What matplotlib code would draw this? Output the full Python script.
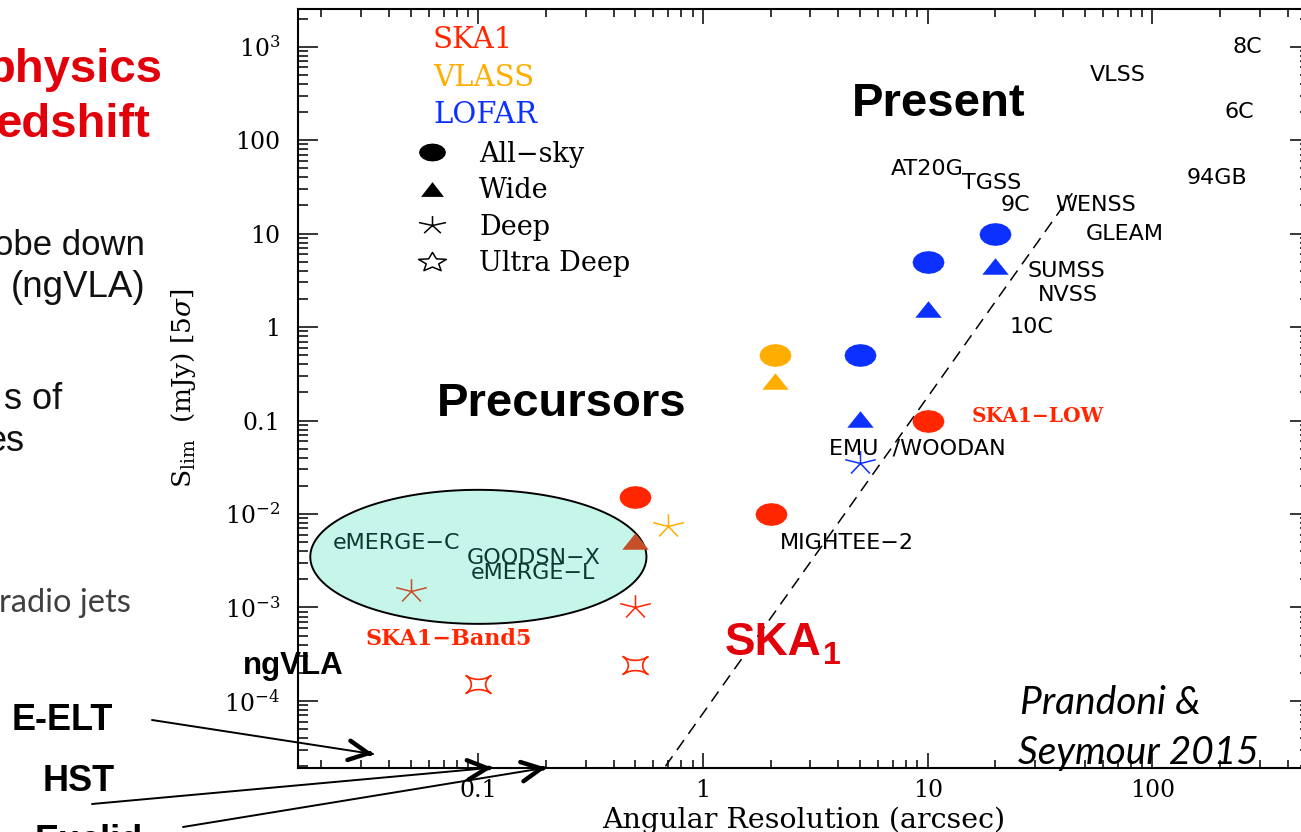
import numpy as np
import matplotlib
matplotlib.use("Agg")
import matplotlib.pyplot as plt
from matplotlib.path import Path
from matplotlib.lines import Line2D
from matplotlib.ticker import NullFormatter

plt.rcParams["font.family"] = ["DejaVu Serif"]
plt.rcParams["mathtext.fontset"] = "dejavuserif"

# ---- data: angular resolution (arcsec) vs 5-sigma flux limit (mJy) ----
ska1_allsky_res = [0.5, 2, 10]
ska1_allsky_flux = [0.0152, 0.01, 0.1]
ska1_deep_res = [0.5]
ska1_deep_flux = [0.001]
ska1_udeep_res = [0.5, 0.1]
ska1_udeep_flux = [2.45e-4, 1.5e-4]

vlass_allsky_res = [2.1]
vlass_allsky_flux = [0.5]
vlass_wide_res = [2.1]
vlass_wide_flux = [0.265]
vlass_deep_res = [0.7]
vlass_deep_flux = [0.0075]

lofar_allsky_res = [5, 10, 20]
lofar_allsky_flux = [0.5, 5, 10]
lofar_wide_res = [5, 10, 20]
lofar_wide_flux = [0.104, 1.55, 4.5]
lofar_deep_res = [5]
lofar_deep_flux = [0.035]

emerlin_wide_res = [0.5]
emerlin_wide_flux = [0.0052]
emerlin_deep_res = [0.05]
emerlin_deep_flux = [0.0015]

# SKA1 limit (dashed line)
conf_res = [0.68, 44]
conf_flux = [2e-5, 27]

# labels of existing surveys
survey_names = ["8C", "VLSS", "6C", "AT20G", "TGSS", "94GB", "9C", "WENSS",
                "GLEAM", "SUMSS", "NVSS", "10C", "EMU  /WOODAN", "MIGHTEE\u22122"]
survey_res = [226, 52.7, 210, 6.87, 14.2, 142.6, 21.0, 36.9,
              50.7, 27.7, 31.0, 23.2, 3.64, 2.2]
survey_flux = [1000, 500, 199, 49.5, 35, 39.4, 20.1, 20.1,
               9.9, 3.95, 2.22, 1.0, 0.05, 0.00486]

# deep fields inside the highlighted region
field_names = ["eMERGE\u2212C", "GOODSN\u2212X", "eMERGE\u2212L"]
field_res = [0.0226, 0.0887, 0.0925]
field_flux = [0.00486, 0.00337, 0.00236]
region_center = (0.1, 0.00348)
region_half_decades = (0.748, 0.717)

telescopes = ["SKA1", "VLASS", "LOFAR"]
survey_types = ["All\u2212sky", "Wide", "Deep", "Ultra Deep"]

x_ticks = [0.1, 1, 10, 100]
x_tick_labels = ["0.1", "1", "10", "100"]
y_ticks = [1e-4, 1e-3, 1e-2, 0.1, 1, 10, 100, 1e3]
y_tick_labels = [r"$\mathregular{10^{-4}}$", r"$\mathregular{10^{-3}}$", r"$\mathregular{10^{-2}}$",
                 "0.1", "1", "10", "100", r"$\mathregular{10^{3}}$"]

# facilities pointed at on the resolution axis
facility_names = ["E-ELT", "HST", "Euclid"]
facility_res = [0.034, 0.115, 0.2]
facility_flux = [2.7e-5, 1.93e-5, 1.93e-5]

RED = "#ff2600"
ORANGE = "#ffad00"
BLUE = "#0b30ff"
BROWN = "#c64f2a"
SLIDE_RED = "#e2000a"


# ---- marker shapes (IDL symbols are stretched sideways) ----
def blob(stretch=1.4, n=16):
    t = np.linspace(0, 2 * np.pi, n + 1)
    return Path(np.column_stack([np.cos(t), np.sin(t) / stretch]), closed=True)


def flat_triangle(stretch=1.6):
    h = 1 / stretch
    return Path([(-1, -h), (1, -h), (0, h), (-1, -h)], closed=True)


def asterisk(arms=5, stretch=1.3):
    verts, codes = [], []
    for k in range(arms):
        a = np.pi / 2 + 2 * np.pi * k / arms
        verts += [(0, 0), (np.cos(a) * stretch, np.sin(a))]
        codes += [Path.MOVETO, Path.LINETO]
    return Path(verts, codes)


def four_star(stretch=1.4, p=3.6, n=120):
    t = np.linspace(0, 2 * np.pi, n + 1)
    x = np.sign(np.cos(t)) * np.abs(np.cos(t)) ** p
    y = np.sign(np.sin(t)) * np.abs(np.sin(t)) ** p
    c, s = np.cos(np.pi / 4), np.sin(np.pi / 4)
    xr, yr = c * x - s * y, s * x + c * y
    return Path(np.column_stack([xr * stretch, yr]), closed=True)


def star5(stretch=1.45, inner=0.45):
    k = np.arange(11)
    ang = np.pi / 2 + k * np.pi / 5
    r = np.where(k % 2 == 0, 1.0, inner)
    return Path(np.column_stack([r * np.cos(ang) * stretch, r * np.sin(ang)]), closed=True)


W, H = 1301, 832
fig = plt.figure(figsize=(W / 100, H / 100), dpi=100)
ax = fig.add_axes([298.3 / W, (H - 767.7) / H, 1011.2 / W, 758.7 / H])
ax.set_xscale("log")
ax.set_yscale("log")
ax.set_xlim(0.0158, 500)
ax.set_ylim(1.93e-5, 2530)

# highlighted precursor region (ellipse in log space)
t = np.linspace(0, 2 * np.pi, 300)
ex = 10 ** (np.log10(region_center[0]) + region_half_decades[0] * np.cos(t))
ey = 10 ** (np.log10(region_center[1]) + region_half_decades[1] * np.sin(t))
ax.fill(ex, ey, facecolor="#c6f5ea", edgecolor="k", lw=1.4, zorder=1)

ax.plot(conf_res, conf_flux, color="k", lw=1.1, ls=(0, (8, 5)), zorder=2)


def draw(res, flux, kind, color):
    if kind == "allsky":
        ax.plot(res, flux, ls="none", marker=blob(), ms=23, mfc=color, mec=color, mew=0, zorder=4)
    elif kind == "wide":
        ax.plot(res, flux, ls="none", marker=flat_triangle(), ms=19, mfc=color, mec=color, mew=0, zorder=4)
    elif kind == "deep":
        ax.plot(res, flux, ls="none", marker=asterisk(), ms=22, mfc="none", mec=color, mew=1.1, zorder=4)
    else:
        ax.plot(res, flux, ls="none", marker=four_star(), ms=18, mfc="none", mec=color, mew=1.2, zorder=4)


draw(ska1_allsky_res, ska1_allsky_flux, "allsky", RED)
draw(ska1_deep_res, ska1_deep_flux, "deep", RED)
draw(ska1_udeep_res, ska1_udeep_flux, "udeep", RED)
draw(vlass_allsky_res, vlass_allsky_flux, "allsky", ORANGE)
draw(vlass_wide_res, vlass_wide_flux, "wide", ORANGE)
draw(vlass_deep_res, vlass_deep_flux, "deep", ORANGE)
draw(lofar_allsky_res, lofar_allsky_flux, "allsky", BLUE)
draw(lofar_wide_res, lofar_wide_flux, "wide", BLUE)
draw(lofar_deep_res, lofar_deep_flux, "deep", BLUE)
draw(emerlin_wide_res, emerlin_wide_flux, "wide", BROWN)
draw(emerlin_deep_res, emerlin_deep_flux, "deep", BROWN)

# ---- axes cosmetics ----
ax.set_xticks(x_ticks, labels=x_tick_labels)
ax.set_yticks(y_ticks, labels=y_tick_labels)
ax.xaxis.set_minor_formatter(NullFormatter())
ax.yaxis.set_minor_formatter(NullFormatter())
ax.tick_params(which="both", direction="in", top=True, right=True, width=1.1, labelsize=17)
ax.tick_params(axis="y", which="major", length=14.5, pad=13)
ax.tick_params(axis="y", which="minor", length=7)
ax.tick_params(axis="x", which="major", length=11, pad=8)
ax.tick_params(axis="x", which="minor", length=5.5)
for sp in ax.spines.values():
    sp.set_linewidth(1.5)

ax.set_xlabel("Angular Resolution (arcsec)", fontsize=20.5, va="center")
ax.xaxis.set_label_coords(0.4994, -0.069)
ax.set_ylabel(r"S$_{\rm lim}$  (mJy) [5$\sigma$]", fontsize=19, va="center")
ax.yaxis.set_label_coords(-0.114, 0.5005)

# ---- legends ----
tel_handles = [Line2D([], [], ls="none", color=c) for c in (RED, ORANGE, BLUE)]
leg1 = ax.legend(tel_handles, telescopes, loc="upper left", bbox_to_anchor=(0.1332, 0.9772),
                 frameon=False, handlelength=0, handletextpad=0, borderpad=0, borderaxespad=0,
                 labelspacing=0.32, labelcolor="linecolor", prop=dict(family="DejaVu Serif", size=21))
ax.add_artist(leg1)
type_handles = [
    Line2D([], [], ls="none", marker=blob(1.5), ms=19.4, mfc="k", mec="k", mew=0),
    Line2D([], [], ls="none", marker=flat_triangle(1.55), ms=16.5, mfc="k", mec="k", mew=0),
    Line2D([], [], ls="none", marker=asterisk(stretch=1.5), ms=19.4, mfc="none", mec="k", mew=1.1),
    Line2D([], [], ls="none", marker=star5(), ms=20, mfc="none", mec="k", mew=1.1),
]
ax.legend(type_handles, survey_types, loc="upper left", bbox_to_anchor=(0.1055, 0.8265),
          frameon=False, handlelength=2.0, handletextpad=0.74, borderpad=0, borderaxespad=0,
          labelspacing=0.355, prop=dict(family="DejaVu Serif", size=19.5))

# ---- survey labels ----
for name, r, f in zip(survey_names, survey_res, survey_flux):
    ax.text(r, f, name, family="DejaVu Sans", fontsize=16, ha="left", va="center", zorder=5)
for name, r, f in zip(field_names, field_res, field_flux):
    ax.text(r, f, name, family="DejaVu Sans", fontsize=16, color="#0b3b2e", ha="left", va="center", zorder=5)
ax.text(15.7, 0.113, "SKA1\u2212LOW", family="DejaVu Serif", weight="bold", fontsize=14.5,
        color=RED, ha="left", va="center", zorder=5)
ax.text(0.0316, 4.58e-4, "SKA1\u2212Band5", family="DejaVu Serif", weight="bold", fontsize=16,
        color=RED, ha="left", va="center", zorder=5)

ax.text(4.59, 245, "Present", family="Liberation Sans", weight="bold", fontsize=34,
        ha="left", va="center", zorder=5)
ax.text(0.0655, 0.152, "Precursors", family="Liberation Sans", weight="bold", fontsize=34,
        ha="left", va="center", zorder=5)
ska = ax.text(1.253, 4.2e-4, "SKA", family="Liberation Sans", weight="bold", fontsize=33,
              color=SLIDE_RED, ha="left", va="center", zorder=5)
ax.annotate("1", xy=(1.0, 0.02), xycoords=ska, xytext=(1, 0), textcoords="offset points",
            family="Liberation Sans", weight="bold", fontsize=23, color=SLIDE_RED,
            ha="left", va="baseline", zorder=5)
ax.text(25.8, 9.5e-5, "Prandoni &", family="Lato", style="italic", fontsize=28,
        ha="left", va="center", zorder=5)
ax.text(25.3, 2.74e-5, "Seymour 2015", family="Lato", style="italic", fontsize=28,
        ha="left", va="center", zorder=5)

# ---- facility arrows ----
label_px = [(12, 730), (43, 791), (35, 851)]
tail_px = [(152, 720), (92, 804), (183, 827)]
for name, r, f, (lx, ly), (tx, ty) in zip(facility_names, facility_res, facility_flux, label_px, tail_px):
    tail = (tx / W, 1 - ty / H)
    ax.annotate("", xy=(r, f), xytext=tail, textcoords="figure fraction",
                arrowprops=dict(arrowstyle="-", lw=1.4, color="k", shrinkA=0, shrinkB=0),
                annotation_clip=False, zorder=6)
    p0 = fig.transFigure.transform(tail)
    p1 = ax.transData.transform((r, f))
    u = (p1 - p0) / np.hypot(*(p1 - p0))
    ax.annotate("", xy=(r, f), xytext=(-u[0] * 2, -u[1] * 2), textcoords="offset points",
                arrowprops=dict(arrowstyle="->,head_length=1.4,head_width=0.7", lw=3.2,
                                color="k", shrinkA=0, shrinkB=0),
                annotation_clip=False, zorder=6)
    fig.text(lx / W, 1 - ly / H, name, family="Liberation Sans", weight="bold", fontsize=26,
             ha="left", va="baseline")

fig.text(243 / W, 1 - 674 / H, "ngVLA", family="Liberation Sans", weight="bold", fontsize=22.5,
         ha="left", va="baseline")

# ---- slide text cut off at the left edge ----
fig.text(163 / W, 1 - 82 / H, "physics", family="Liberation Sans", weight="bold", fontsize=34,
         color=SLIDE_RED, ha="right", va="baseline")
fig.text(150 / W, 1 - 137 / H, "edshift", family="Liberation Sans", weight="bold", fontsize=34,
         color=SLIDE_RED, ha="right", va="baseline")
fig.text(145 / W, 1 - 255 / H, "obe down", family="Liberation Sans", fontsize=25,
         color="#111111", ha="right", va="baseline")
fig.text(145 / W, 1 - 297 / H, "(ngVLA)", family="Liberation Sans", fontsize=26.5,
         color="#111111", ha="right", va="baseline")
fig.text(62 / W, 1 - 409 / H, "s of", family="Liberation Sans", fontsize=26,
         color="#111111", ha="right", va="baseline")
fig.text(25 / W, 1 - 451 / H, "es", family="Liberation Sans", fontsize=26,
         color="#111111", ha="right", va="baseline")
fig.text(131 / W, 1 - 612 / H, "radio jets", family="Lato", fontsize=23.5,
         color="#404040", ha="right", va="baseline")

fig.savefig("out.png", dpi=100)
